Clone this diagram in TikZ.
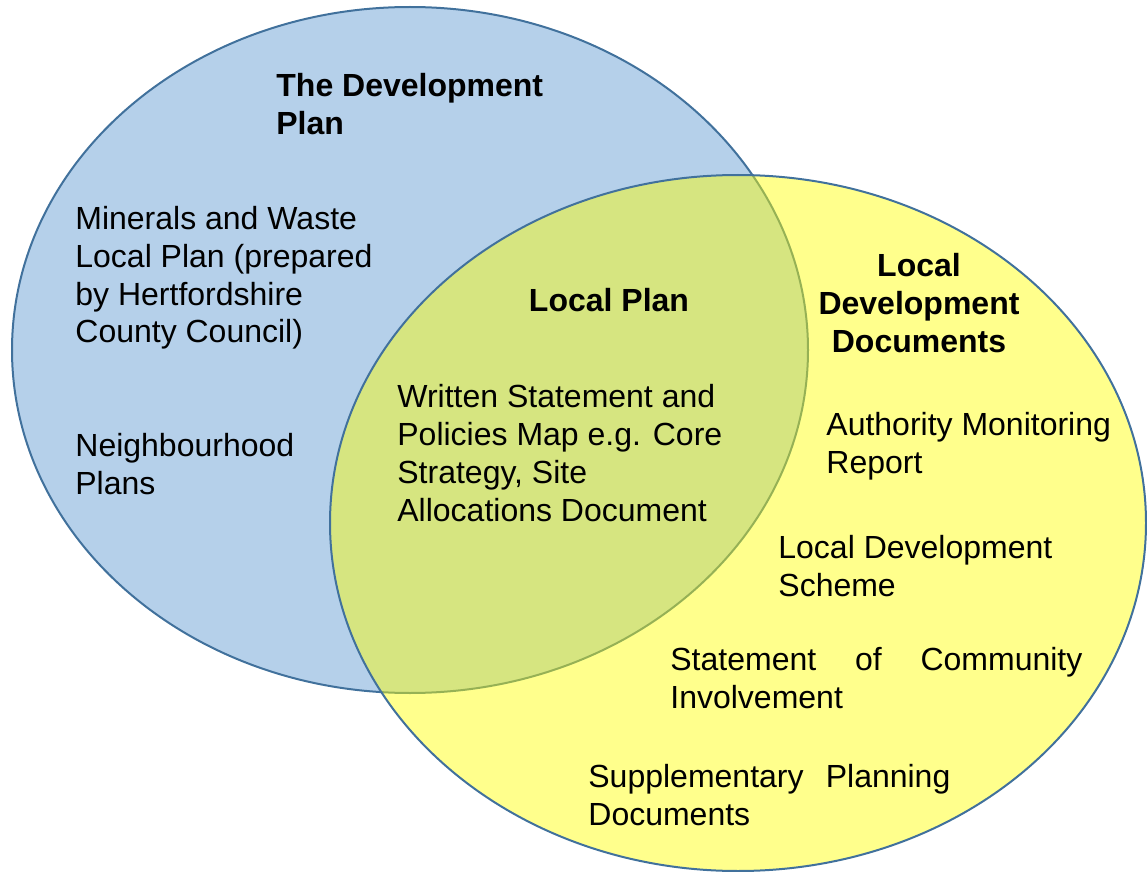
\documentclass[tikz,border=0pt]{standalone}
\usepackage{fontspec}
\setmainfont{Liberation Sans}
\usetikzlibrary{shapes.geometric}

\definecolor{vennblue}{RGB}{181,208,234}
\definecolor{vennline}{RGB}{65,113,156}
\definecolor{vennyellow}{RGB}{255,255,0}

\tikzset{
    venn/.style={draw=vennline, line width=1pt, ellipse, inner sep=0pt, outer sep=0pt},
    label/.style={anchor=base west, inner sep=0pt, align=left, font=\fontsize{16}{19}\selectfont},
    heading/.style={label, font=\fontsize{16}{19}\selectfont\bfseries}
}

\begin{document}
\begin{tikzpicture}[x=0.5pt, y=-0.5pt]

    \useasboundingbox (0,0) rectangle (1147,872);

    \node[venn, fill=vennblue, minimum width=398pt, minimum height=343pt] (devplan) at (410,350) {};
    \node[venn, fill=vennyellow, fill opacity=0.45, minimum width=408pt, minimum height=348pt] (ldd) at (738,523) {};

    % text nodes sit on the baseline of their last line
    \node[heading] (devplantitle) at (276,135) {The Development\\Plan};
    \node[label] (minerals) at (75,343) {Minerals and Waste\\Local Plan (prepared\\by Hertfordshire\\County Council)};
    \node[label] (neighbourhood) at (75,494) {Neighbourhood\\Plans};

    \node[heading, anchor=base] (localplantitle) at (609,311) {Local Plan};
    \node[label] (written) at (397,521) {Written Statement and\\Policies Map e.g. Core\\Strategy, Site\\Allocations Document};

    \node[heading, anchor=base, align=center] (lddtitle) at (919,352) {Local\\Development\\Documents};
    \node[label] (amr) at (826,473) {Authority Monitoring\\Report};
    \node[label] (lds) at (778,596) {Local Development\\Scheme};
    \node[label] (sci) at (670,708) {\makebox[206pt][s]{Statement of Community}\\Involvement};
    \node[label] (spd) at (588,825) {\makebox[181pt][s]{Supplementary Planning}\\Documents};

\end{tikzpicture}
\end{document}
